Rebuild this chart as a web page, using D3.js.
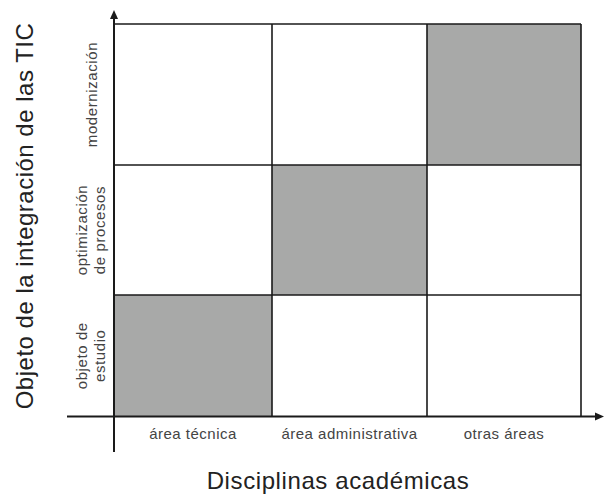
<!DOCTYPE html>
<html>
<head>
<meta charset="utf-8">
<script src="https://cdn.jsdelivr.net/npm/d3@7"></script>
<style>
  body { margin: 0; background: #fff; }
  text { font-family: "Liberation Sans", Arial, sans-serif; }
</style>
</head>
<body>
<script>
// disciplines along x, objectives along y (bottom to top)
var disciplinas = ['área técnica', 'área administrativa', 'otras áreas'];
var objetivos = [['objeto de', 'estudio'], ['optimización', 'de procesos'], ['modernización']];
// 1 = shaded cell, rows listed bottom to top
var celdas = [
  [1, 0, 0],
  [0, 1, 0],
  [0, 0, 1]
];
var xTitle = 'Disciplinas académicas';
var yTitle = 'Objeto de la integración de las TIC';

var width = 604, height = 495;
var gris = '#a8a9a8', tinta = '#1a1a1a';

var svg = d3.select('body').append('svg')
    .attr('width', width)
    .attr('height', height);

// column / row edges
var x = d3.scaleLinear().domain([0, 1, 2, 3]).range([114, 272, 427, 581]);
var y = d3.scaleLinear().domain([0, 1, 2, 3]).range([416.5, 295, 165, 24]);

var cells = [];
celdas.forEach(function(row, r) {
  row.forEach(function(v, c) { cells.push({r: r, c: c, v: v}); });
});

svg.append('g').selectAll('rect')
    .data(cells)
    .enter().append('rect')
    .attr('x', function(d) { return x(d.c); })
    .attr('y', function(d) { return y(d.r + 1); })
    .attr('width', function(d) { return x(d.c + 1) - x(d.c); })
    .attr('height', function(d) { return y(d.r) - y(d.r + 1); })
    .attr('fill', function(d) { return d.v ? gris : '#fff'; });

// grid lines
var grid = svg.append('g').attr('stroke', tinta).attr('stroke-width', 1.6);
grid.selectAll('.h')
    .data(d3.range(1, objetivos.length + 1))
    .enter().append('line')
    .attr('x1', x(0)).attr('x2', x(3))
    .attr('y1', function(d) { return y(d); })
    .attr('y2', function(d) { return y(d); });
grid.selectAll('.v')
    .data(d3.range(1, disciplinas.length + 1))
    .enter().append('line')
    .attr('y1', y(0)).attr('y2', y(3))
    .attr('x1', function(d) { return x(d); })
    .attr('x2', function(d) { return x(d); });

// axes with arrows
svg.append('line')
    .attr('x1', 67).attr('x2', 598)
    .attr('y1', y(0)).attr('y2', y(0))
    .attr('stroke', tinta).attr('stroke-width', 2);
svg.append('path')
    .attr('d', 'M604,' + y(0) + 'L595,' + (y(0) - 4) + 'L595,' + (y(0) + 4) + 'Z')
    .attr('fill', tinta);
svg.append('line')
    .attr('x1', x(0)).attr('x2', x(0))
    .attr('y1', 452).attr('y2', 16)
    .attr('stroke', tinta).attr('stroke-width', 2);
svg.append('path')
    .attr('d', 'M' + x(0) + ',10L' + (x(0) - 4) + ',19L' + (x(0) + 4) + ',19Z')
    .attr('fill', tinta);

// category labels
svg.append('g').selectAll('text')
    .data(disciplinas)
    .enter().append('text')
    .attr('x', function(d, i) { return (x(i) + x(i + 1)) / 2; })
    .attr('y', 439)
    .attr('text-anchor', 'middle')
    .attr('font-size', 15)
    .attr('letter-spacing', 0.5)
    .attr('fill', '#444')
    .text(function(d) { return d; });

var yl = svg.append('g').selectAll('text')
    .data(objetivos)
    .enter().append('text')
    .attr('transform', function(d, i) {
      var cy = (y(i) + y(i + 1)) / 2;
      var bx = d.length > 1 ? 87 : 97;
      return 'translate(' + bx + ',' + cy + ') rotate(-90)';
    })
    .attr('text-anchor', 'middle')
    .attr('font-size', 15)
    .attr('letter-spacing', 0.6)
    .attr('fill', '#444');
yl.selectAll('tspan')
    .data(function(d) { return d; })
    .enter().append('tspan')
    .attr('x', 0)
    .attr('dy', function(d, i) { return i ? 18 : 0; })
    .text(function(d) { return d; });

// axis titles
svg.append('text')
    .attr('x', 338).attr('y', 489)
    .attr('text-anchor', 'middle')
    .attr('font-size', 24)
    .attr('letter-spacing', 0.6)
    .attr('fill', '#222')
    .text(xTitle);
svg.append('text')
    .attr('transform', 'translate(33,216) rotate(-90)')
    .attr('text-anchor', 'middle')
    .attr('font-size', 24)
    .attr('letter-spacing', 0.5)
    .attr('fill', '#222')
    .text(yTitle);
</script>
</body>
</html>
